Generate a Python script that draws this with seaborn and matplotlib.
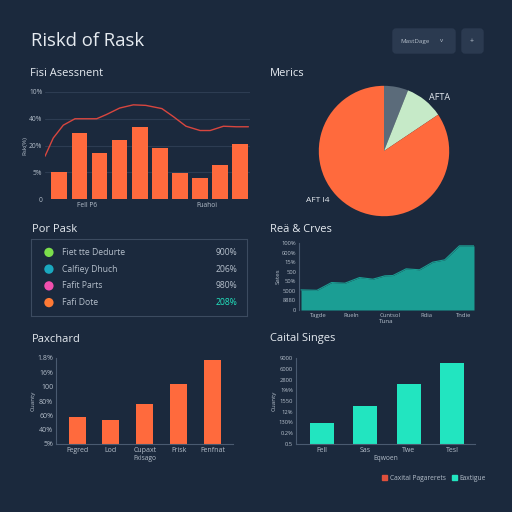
import numpy as np
import seaborn as sns
import matplotlib.pyplot as plt
from matplotlib.patches import FancyBboxPatch, Patch

# colours
BG = "#1b293d"
TEXT = "#e6ebf1"
TICK = "#b4beca"
GRID = "#2d3c52"
SPINE = "#4a5a70"
ORANGE = "#ff6a3d"
RED = "#d8463f"
TEAL = "#1b9e94"
AQUA = "#22e5c0"

# panel 1: risk assessment
risk_cats = ["B1", "B2", "B3", "B4", "B5", "B6", "B7", "B8", "B9", "B10"]
risk_vals = [25.6, 61.6, 43.4, 54.7, 67.2, 48.1, 24.7, 20.0, 32.2, 51.3]
risk_yticks = ["0", "5%", "20%", "40%", "10%"]
trend_x = [-0.71, -0.3, 0.2, 0.78, 1.86, 2.35, 3.0, 3.68, 4.3, 5.1, 5.67, 6.3, 7.0, 7.5, 8.16, 8.8, 9.4]
trend_y = [40, 57, 69, 75, 75, 79, 85, 88, 87.5, 84.5, 77, 68, 64, 64, 68, 67.5, 67.5]

# panel 2: metrics pie
pie_vals = [6.0, 9.6, 84.4]
pie_colors = ["#5b6b7a", "#c6eac8", ORANGE]

# panel 3: list
pp_labels = ["Fiet tte Dedurte", "Calfiey Dhuch", "Fafit Parts", "Fafi Dote"]
pp_values = ["900%", "206%", "980%", "208%"]
pp_colors = ["#7bde4c", "#1aa8bf", "#f04fae", "#ff7a35"]

# panel 4: area
area_x = [0, 1.2, 2.3, 3.3, 4.4, 5.4, 6.3, 6.9, 7.9, 8.9, 9.9, 10.8, 11.9, 13]
area_y = [2.1, 2.06, 2.87, 2.8, 3.39, 3.22, 3.57, 3.6, 4.3, 4.2, 5.0, 5.24, 6.7, 6.7]
area_yticks = ["0", "8880", "5000", "50%", "500", "15%", "000%", "100%"]
area_xticks = ["Tagde", "Rueln", "Cuntsol", "Rdia", "Tndie"]

# panel 5: orange bars
pc_cats = ["Fegred", "Lod", "Cupaxt", "Frisk", "Fenfnat"]
pc_vals = [1.85, 1.64, 2.76, 4.16, 5.84]
pc_yticks = ["5%", "40%", "60%", "80%", "100", "16%", "1.8%"]

# panel 6: aqua bars
cs_cats = ["Fell", "Sas", "Twe", "Tesl"]
cs_vals = [1.93, 3.58, 5.58, 7.54]
cs_yticks = ["0.5", "0.2%", "130%", "12%", "1550", "1%%", "2800", "6000", "9000"]

sns.set_theme(style="dark")
plt.rcParams["font.family"] = ["Open Sans", "DejaVu Sans"]

fig = plt.figure(figsize=(5.12, 5.12), dpi=100, facecolor=BG)


def px_axes(left, top, right, bottom):
    return fig.add_axes([left / 512, 1 - bottom / 512, (right - left) / 512, (bottom - top) / 512])


def px_text(x, y, s, **kw):
    kw.setdefault("color", TEXT)
    kw.setdefault("va", "center")
    fig.text(x / 512, 1 - y / 512, s, **kw)


def style(ax, left=False, bottom=False, size=4.8):
    ax.set_facecolor("none")
    for name, sp in ax.spines.items():
        sp.set_visible((name == "left" and left) or (name == "bottom" and bottom))
        sp.set_color(SPINE)
        sp.set_linewidth(0.8)
    ax.tick_params(colors=TICK, labelsize=size, length=0, pad=2)
    ax.grid(False)


# header
px_text(31, 41, "Riskd of Rask", fontsize=13.3)
fig.patches.append(FancyBboxPatch((393 / 512, 1 - 53 / 512), 62 / 512, 24 / 512,
                                  boxstyle="round,pad=0,rounding_size=0.006",
                                  transform=fig.transFigure, color="#2b3a50"))
fig.patches.append(FancyBboxPatch((462 / 512, 1 - 53 / 512), 21 / 512, 24 / 512,
                                  boxstyle="round,pad=0,rounding_size=0.006",
                                  transform=fig.transFigure, color="#2b3a50"))
px_text(400, 41, "MastDage", fontsize=4.5, color=TICK)
px_text(442, 41, "v", fontsize=4.5, color=TICK, ha="center")
px_text(472, 41, "+", fontsize=5, color=TICK, ha="center")

# panel 1
px_text(30, 74, "Fisi Asessnent", fontsize=8)
ax1 = px_axes(45, 92, 250.4, 199)
sns.barplot(x=risk_cats, y=risk_vals, color=ORANGE, width=0.78, saturation=1, linewidth=0, ax=ax1)
sns.lineplot(x=trend_x, y=trend_y, color=RED, linewidth=1, ax=ax1)
style(ax1)
ax1.set_xlim(-0.71, 9.5)
ax1.set_ylim(0, 100)
ax1.set_yticks([0, 25, 50, 75, 100], risk_yticks)
ax1.set_xticks([1.36, 7.36], ["Fell P6", "Fuahoi"])
ax1.yaxis.grid(True, color=GRID, linewidth=0.8)
ax1.set_axisbelow(True)
ax1.set_xlabel("")
ax1.set_ylabel("Rsk(%)", fontsize=4.5, color=TICK, labelpad=1)

# panel 2
px_text(270, 74, "Merics", fontsize=8)
ax2 = px_axes(302.5, 69.5, 465.5, 232.5)
ax2.pie(pie_vals, colors=pie_colors, startangle=90, counterclock=False,
        wedgeprops=dict(linewidth=0))
px_text(440, 97, "AFTA", fontsize=6.5, ha="center")
px_text(318, 200, "AFT I4", fontsize=6, ha="center")

# panel 3
px_text(32, 229, "Por Pask", fontsize=8)
ax3 = px_axes(31, 239, 247, 316)
sns.scatterplot(x=[0.083] * len(pp_labels), y=list(range(len(pp_labels))), hue=pp_labels,
                palette=pp_colors, s=45, linewidth=0, legend=False, ax=ax3)
ax3.set_xlim(0, 1)
ax3.set_ylim(3.8, -0.8)
ax3.set_facecolor("none")
ax3.set_xticks([])
ax3.set_yticks([])
ax3.set_xlabel("")
ax3.set_ylabel("")
for sp in ax3.spines.values():
    sp.set_color("#3c4b60")
    sp.set_linewidth(0.8)
for i, (lab, val) in enumerate(zip(pp_labels, pp_values)):
    ax3.text(0.144, i, lab, color=TICK, fontsize=6.2, va="center")
    ax3.text(0.954, i, val, color=AQUA if i == 3 else TICK, fontsize=6.2, va="center", ha="right")

# panel 4
px_text(270, 229, "Reä & Crves", fontsize=8)
ax4 = px_axes(299, 243, 474, 310)
sns.lineplot(x=area_x, y=area_y, color=TEAL, linewidth=0.8, ax=ax4)
ax4.fill_between(area_x, area_y, color=TEAL, linewidth=0)
style(ax4, left=True, size=4.2)
ax4.set_xlim(-0.15, 13)
ax4.set_ylim(0, 7)
ax4.set_yticks(range(len(area_yticks)), area_yticks)
ax4.set_xticks([1.3, 3.8, 6.7, 9.4, 12.2], area_xticks)
ax4.set_xlabel("Tuna", fontsize=4.5, color=TICK, labelpad=1)
ax4.set_ylabel("Sates", fontsize=4.5, color=TICK, labelpad=1)

# panel 5
px_text(32, 339, "Paxchard", fontsize=8)
ax5 = px_axes(56, 358, 233, 444)
sns.barplot(x=pc_cats, y=pc_vals, color=ORANGE, width=0.5, saturation=1, linewidth=0, ax=ax5)
style(ax5, left=True, bottom=True, size=5)
ax5.set_xlim(-0.62, 4.6)
ax5.set_ylim(0, 6)
ax5.set_yticks(range(len(pc_yticks)), pc_yticks)
ax5.set_xlabel("Fxisago", fontsize=4.8, color=TICK, labelpad=1)
ax5.set_ylabel("Cuanty", fontsize=4.5, color=TICK, labelpad=1)

# panel 6
px_text(270, 339, "Caital Singes", fontsize=8)
ax6 = px_axes(296, 358, 475, 444)
sns.barplot(x=cs_cats, y=cs_vals, color=AQUA, width=0.55, saturation=1, linewidth=0, ax=ax6)
style(ax6, left=True, bottom=True, size=4.2)
ax6.set_xlim(-0.6, 3.53)
ax6.set_ylim(0, 8)
ax6.set_yticks(range(len(cs_yticks)), cs_yticks)
ax6.tick_params(axis="x", labelsize=5)
ax6.set_xlabel("Eqwoen", fontsize=4.8, color=TICK, labelpad=1)
ax6.set_ylabel("Cuanty", fontsize=4.5, color=TICK, labelpad=1)
fig.legend(handles=[Patch(color="#e0503c", label="Caxital Pagarerets"),
                    Patch(color=AQUA, label="Eaxtigue")],
           loc="center", bbox_to_anchor=(434 / 512, 1 - 478 / 512), ncol=2, frameon=False,
           fontsize=4.8, handlelength=0.7, handleheight=0.7, columnspacing=1,
           handletextpad=0.4, labelcolor=TICK)

fig.savefig("out.png", dpi=100, facecolor=BG)
